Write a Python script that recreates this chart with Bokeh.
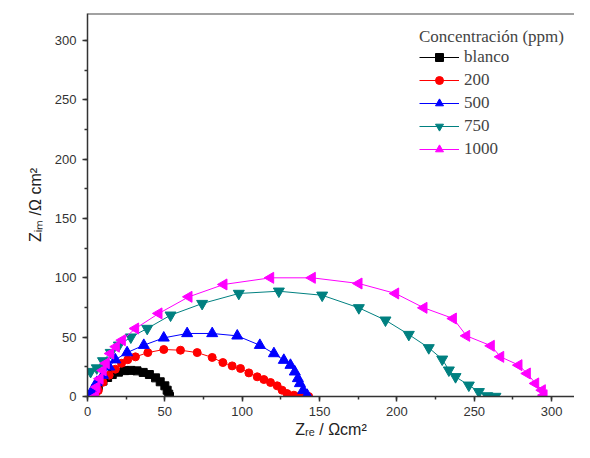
import numpy as np
from bokeh.plotting import figure
from bokeh.models import Span, Range1d, SingleIntervalTicker, Legend
from bokeh.embed import file_html
from bokeh.resources import INLINE

# ---- data ----
blanco_x = [3, 5, 7, 10, 13, 16, 20, 24, 28, 32, 36, 40, 44, 47, 50, 51.5, 52.5, 53]
blanco_y = [0, 5, 9, 13, 16, 18.5, 20.5, 21.8, 22, 21.6, 20.3, 18.5, 15.7, 12.4, 9, 5.3, 2, 0]

c200_x = [5, 7, 10, 14, 18, 22, 26, 31, 39, 49.3, 60.1, 70.9, 80.6, 87.5, 93.5, 98.9, 104.3, 109.7, 114,
          118.3, 122.6, 125.8, 129, 133.4, 137.7, 143]
c200_y = [0, 5, 12, 18, 23, 28, 31, 33.4, 37, 39.6, 39, 37, 32.9, 28.6, 25.8, 23.6, 19.9, 16.6, 14.3,
          11.8, 9, 5.3, 2.5, 1.1, 0.5, 0]

c500_x = [2, 3, 6, 10, 14, 18, 25.6, 36.4, 49.3, 64.4, 80.6, 96.8, 111.4, 120.5, 126.9, 131.2, 134, 136,
          137.3, 139.4, 142]
c500_y = [0, 5, 12, 18, 25, 31, 37, 43.2, 49.4, 53.1, 53.1, 51.1, 43.2, 36.2, 30.6, 26.4, 20.8, 15.2,
          11, 5.3, 1.1]

c750_x = [2, 6, 10, 15, 20.3, 28, 38.6, 53.7, 74.1, 97.8, 123.7, 151.7, 175.4, 192.6, 207.7, 220.6,
          229.3, 233.6, 237.9, 246.5, 253, 258.4, 263.7]
c750_y = [21, 24, 30, 37, 43.2, 50, 57.3, 68.5, 78.3, 86.8, 88.7, 85.3, 74.7, 64.3, 52.2, 41,
          31.4, 22.2, 16.6, 9.5, 4, 0.5, 0]

c1000_x = [5, 6, 8, 10, 12, 14.9, 18.5, 22.4, 31, 46.1, 65.5, 88.1, 118.3, 145.2, 175.4, 199.1, 217.4,
           236.4, 245, 260.9, 267, 278.8, 284.2, 289.6, 293.9, 295]
c1000_y = [0, 8, 15, 22, 28, 36.2, 42, 47.4, 57.3, 70, 84, 94.4, 100, 100, 95.2, 86.8, 74.7,
           65.7, 51.1, 42.7, 33.4, 26.4, 19.4, 11, 5.3, 1.1]

series_labels = ["blanco", "200", "500", "750", "1000"]
x_ticks_step = 50
y_ticks_step = 50

X_END = 314.8
Y_END = 322.7

p = figure(width=574, height=442, output_backend="svg", toolbar_location=None,
           x_range=Range1d(0, X_END), y_range=Range1d(0, Y_END),
           min_border_left=87, min_border_right=0, min_border_top=13, min_border_bottom=46)
p.outline_line_color = None
p.grid.visible = False
p.background_fill_color = "white"

for ax in (p.xaxis[0], p.yaxis[0]):
    ax.axis_line_color = "#333333"
    ax.axis_line_width = 1.5
    ax.major_tick_line_color = "#333333"
    ax.major_tick_line_width = 1.5
    ax.minor_tick_line_color = "#333333"
    ax.minor_tick_line_width = 1.5
    ax.major_tick_in = 0
    ax.major_tick_out = 5
    ax.minor_tick_in = 0
    ax.minor_tick_out = 3
    ax.major_label_text_font = "Liberation Sans"
    ax.major_label_text_font_size = "13px"
    ax.major_label_text_color = "#333333"
    ax.axis_label_text_font = "Liberation Sans"
    ax.axis_label_text_font_size = "16px"
    ax.axis_label_text_font_style = "normal"
    ax.axis_label_text_color = "#222222"

p.xaxis.ticker = SingleIntervalTicker(interval=x_ticks_step, num_minor_ticks=2)
p.yaxis.ticker = SingleIntervalTicker(interval=y_ticks_step, num_minor_ticks=2)
p.xaxis.major_label_standoff = 5
p.yaxis.major_label_standoff = 6
p.xaxis.axis_label = "Zᵣₑ / Ωcm²"
p.yaxis.axis_label = "Zᵢₘ /Ω cm²"
p.xaxis.axis_label_standoff = 2
p.yaxis.axis_label_standoff = 8

p.add_layout(Span(location=Y_END, dimension="width", line_color="#444444", line_width=2))

xs = [blanco_x, c200_x, c500_x, c750_x, c1000_x]
ys = [blanco_y, c200_y, c500_y, c750_y, c1000_y]
colors = ["black", "red", "blue", "#008080", "magenta"]
markers = ["square", "circle", "triangle", "inverted_triangle", "triangle"]
angles = [0, 0, 0, 0, np.pi / 2]
sizes = [8, 8, 11, 11, 11]

items = []
for x, y, c, m, a, s, lab in zip(xs, ys, colors, markers, angles, sizes, series_labels):
    r1 = p.line(x, y, line_color=c, line_width=1)
    r2 = p.scatter(x, y, marker=m, angle=a, size=s, fill_color=c, line_color=c)
    items.append((lab, [r1, r2]))

legend = Legend(items=items, location=(332, 237))
legend.title = "Concentración (ppm)"
legend.title_text_font = "Liberation Serif"
legend.title_text_font_size = "17px"
legend.title_text_font_style = "normal"
legend.title_standoff = 0
legend.label_text_font = "Liberation Serif"
legend.label_text_font_size = "17px"
legend.border_line_color = None
legend.background_fill_alpha = 0
legend.padding = 0
legend.spacing = 3
legend.label_height = 20
legend.glyph_height = 20
legend.glyph_width = 40
legend.label_standoff = 5
p.add_layout(legend)

open("out.html", "w").write(file_html(p, INLINE))
